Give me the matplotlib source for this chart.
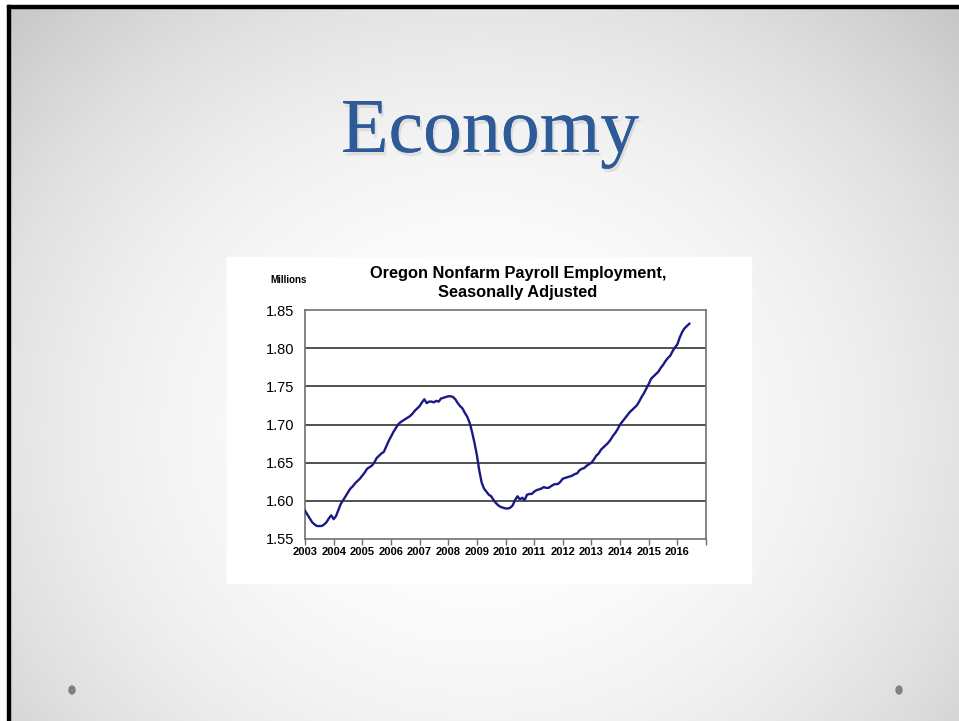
import numpy as np
import matplotlib
matplotlib.use("Agg")
import matplotlib.pyplot as plt
import matplotlib.patheffects as pe
from matplotlib.patches import Rectangle, Ellipse

# ---- data (monthly, Jan 2003 .. Jun 2016), millions ----
start_year = 2003
employment = [
    # 2003
    1.587, 1.582, 1.577, 1.572, 1.569, 1.567, 1.567, 1.567, 1.569, 1.572, 1.577, 1.581,
    # 2004
    1.576, 1.580, 1.588, 1.596, 1.601, 1.606, 1.611, 1.616, 1.619, 1.623, 1.626, 1.629,
    # 2005
    1.633, 1.637, 1.642, 1.644, 1.646, 1.650, 1.656, 1.659, 1.662, 1.664, 1.671, 1.678,
    # 2006
    1.684, 1.690, 1.695, 1.700, 1.703, 1.705, 1.707, 1.709, 1.711, 1.714, 1.718, 1.721,
    # 2007
    1.724, 1.729, 1.733, 1.728, 1.730, 1.730, 1.729, 1.731, 1.730, 1.734, 1.735, 1.736,
    # 2008
    1.737, 1.737, 1.736, 1.733, 1.728, 1.724, 1.721, 1.715, 1.710, 1.702, 1.690, 1.676,
    # 2009
    1.660, 1.640, 1.624, 1.616, 1.612, 1.608, 1.606, 1.601, 1.597, 1.594, 1.592, 1.591,
    # 2010
    1.590, 1.590, 1.591, 1.594, 1.601, 1.606, 1.602, 1.604, 1.601, 1.608, 1.609, 1.609,
    # 2011
    1.612, 1.614, 1.615, 1.616, 1.618, 1.617, 1.617, 1.619, 1.621, 1.622, 1.622, 1.625,
    # 2012
    1.629, 1.630, 1.631, 1.632, 1.633, 1.635, 1.636, 1.640, 1.642, 1.643, 1.646, 1.648,
    # 2013
    1.650, 1.654, 1.659, 1.662, 1.667, 1.670, 1.673, 1.676, 1.680, 1.685, 1.689, 1.694,
    # 2014
    1.700, 1.704, 1.708, 1.712, 1.716, 1.719, 1.722, 1.725, 1.730, 1.736, 1.741, 1.747,
    # 2015
    1.753, 1.760, 1.763, 1.766, 1.769, 1.774, 1.778, 1.783, 1.787, 1.790, 1.796, 1.801,
    # 2016
    1.805, 1.814, 1.821, 1.826, 1.829, 1.832,
]
year_ticks = list(range(2003, 2018))
year_labels = [str(y) for y in range(2003, 2017)] + [""]
y_ticks = [1.55, 1.60, 1.65, 1.70, 1.75, 1.80, 1.85]
y_labels = ["1.55", "1.60", "1.65", "1.70", "1.75", "1.80", "1.85"]

W, H = 959, 721
fig = plt.figure(figsize=(W / 100, H / 100), dpi=100)

# ---- slide background: radial gradient ----
bg = fig.add_axes([0, 0, 1, 1])
bg.set_xlim(0, W)
bg.set_ylim(H, 0)
bg.axis("off")
yy, xx = np.mgrid[0:H, 0:W]
r = np.sqrt(((xx - 480) / 620.0) ** 2 + ((yy - 430) / 560.0) ** 2)
val = 1.0 - 0.19 * np.clip(r, 0, 1.2) ** 2.2
img = np.dstack([val, val, val])
bg.imshow(img, extent=[0, W, H, 0], aspect="auto", interpolation="bilinear")
# white margin and black border lines top and left
bg.add_patch(Rectangle((0, 0), W, 5, color="white", zorder=2))
bg.add_patch(Rectangle((0, 0), 7, H, color="white", zorder=2))
bg.add_patch(Rectangle((7, 5), W, 2.5, color="black", zorder=3))
bg.add_patch(Rectangle((7, 5), 2.5, H, color="black", zorder=3))
# white chart panel
bg.add_patch(Rectangle((227, 257), 524, 326, color="white", zorder=2))
# bullets
bg.add_patch(Ellipse((72, 690), 6, 8, color="#808080", zorder=3))
bg.add_patch(Ellipse((899, 690), 6, 8, color="#808080", zorder=3))

# slide title with soft shadow
fig.text(490 / W, 1 - 152 / H, "Economy", family="Liberation Serif",
         fontsize=56, color="#2f5a98", ha="center", va="baseline",
         path_effects=[pe.withSimplePatchShadow(offset=(1.5, -2.5), shadow_rgbFace="#9a9a9a",
                                                alpha=0.22), pe.Normal()])

# chart titles
fig.text(518 / W, 1 - 283 / H, "Oregon Nonfarm Payroll Employment,\nSeasonally Adjusted",
         family="Liberation Sans", fontweight="bold", fontsize=11.8, ha="center",
         va="center", linespacing=1.35, color="black")
fig.text(289 / W, 1 - 280 / H, "Millions", family="Liberation Sans",
         fontweight="bold", fontsize=7, ha="center", va="center")

# ---- chart ----
ax = fig.add_axes([305 / W, 1 - 539 / H, 401 / W, 229 / H])
ax.set_facecolor("white")
x = start_year + np.arange(len(employment)) / 12.0
ax.plot(x, employment, color="#1a1a85", linewidth=1.7, zorder=3)
ax.set_xlim(2003, 2017)
ax.set_ylim(1.55, 1.85)
ax.set_xticks(year_ticks)
ax.set_xticklabels(year_labels, family="Liberation Sans", fontsize=8, fontweight="bold")
ax.set_yticks(y_ticks)
ax.set_yticklabels(y_labels, family="Liberation Sans", fontsize=10.5)
for v in y_ticks[1:-1]:
    ax.axhline(v, color="#222222", linewidth=1.1, zorder=1)
for s in ax.spines.values():
    s.set_color("#707070")
    s.set_linewidth(1.2)
ax.tick_params(axis="x", direction="out", length=4, width=1, color="#707070", pad=2)
ax.tick_params(axis="y", length=0, pad=8)

fig.savefig("out.png", dpi=100)
